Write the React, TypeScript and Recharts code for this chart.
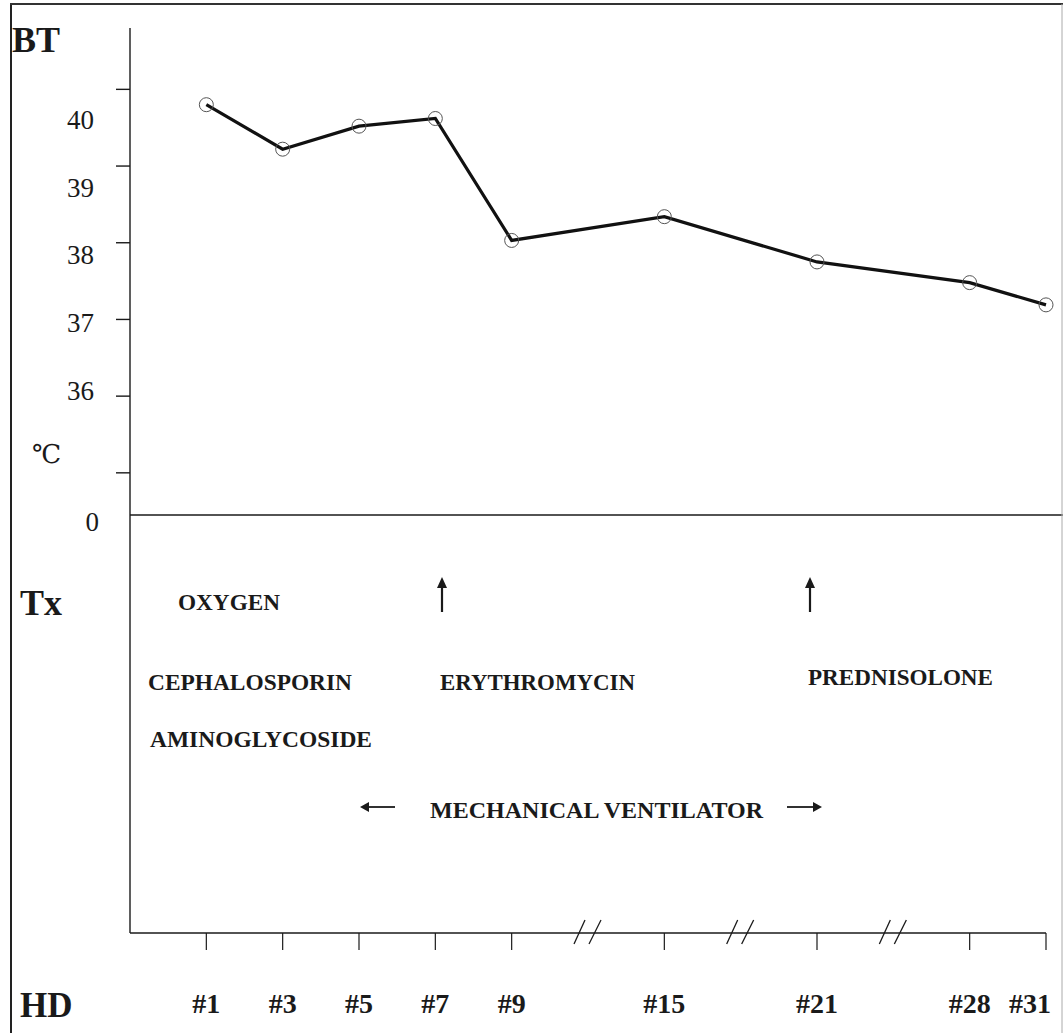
import { LineChart, Line, XAxis, YAxis, ReferenceLine, ReferenceDot } from "recharts";

// hospital days shown on the HD axis
const days = ["#1", "#3", "#5", "#7", "#9", "#15", "#21", "#28", "#31"];
// slot on the broken HD axis (breaks fall on 6, 8, 10)
const slots = [1, 2, 3, 4, 5, 7, 9, 11, 12];
const breakSlots = [6, 8, 10];
// body temperature, ℃
const bodyTemp = [39.8, 39.22, 39.52, 39.62, 38.03, 38.34, 37.75, 37.48, 37.19];
const tempTicks = [35, 36, 37, 38, 39, 40];
// where the "0" of the broken BT axis sits
const ZERO_AT = 34.45;

const treatments = ["OXYGEN", "CEPHALOSPORIN", "AMINOGLYCOSIDE", "ERYTHROMYCIN", "PREDNISOLONE"];
const ventLabel = "MECHANICAL  VENTILATOR";

const data = days.map((day, i) => ({ day, slot: slots[i], bt: bodyTemp[i] }));

const SERIF = "'Liberation Serif', 'Times New Roman', 'DejaVu Serif', serif";
const INK = "#1a1a1a";

function TempTick(props: any) {
  const { x, y, payload } = props;
  const v = payload.value;
  const axisX = x + 16; // tickSize 14 + tickMargin 2
  if (v === ZERO_AT) {
    return (
      <text x={axisX - 31} y={y + 16} textAnchor="end" fontSize={27} fill={INK} fontFamily={SERIF}>
        0
      </text>
    );
  }
  return (
    <g>
      <line x1={axisX - 14} x2={axisX} y1={y} y2={y} stroke={INK} strokeWidth={1.4} />
      {v !== 35 && (
        <text
          x={axisX - 36}
          y={y + 10 + (v - 36.7) * 9}
          textAnchor="end"
          fontSize={27}
          fill={INK}
          fontFamily={SERIF}
        >
          {v}
        </text>
      )}
    </g>
  );
}

function DayTick(props: any) {
  const { x, y, payload } = props;
  const i = slots.indexOf(payload.value);
  const last = i === slots.length - 1;
  return (
    <text
      x={last ? x + 5 : x}
      y={y + 63}
      textAnchor={last ? "end" : "middle"}
      fontSize={28}
      fontWeight="bold"
      fill={INK}
      fontFamily={SERIF}
    >
      {days[i]}
    </text>
  );
}

const BreakMark = (p: any) => (
  <g stroke={INK} strokeWidth={1.3}>
    <line x1={p.cx - 14} y1={p.cy + 11} x2={p.cx - 3} y2={p.cy - 13} />
    <line x1={p.cx + 1} y1={p.cy + 11} x2={p.cx + 13} y2={p.cy - 13} />
  </g>
);

function UpArrow({ x }: { x: number }) {
  return (
    <g>
      <line x1={x} y1={612} x2={x} y2={584} stroke={INK} strokeWidth={2.2} />
      <polygon points={`${x - 5},${588} ${x},${577} ${x + 5},${588}`} fill={INK} />
    </g>
  );
}

function SideArrow({ x1, x2, y }: { x1: number; x2: number; y: number }) {
  const dir = x2 > x1 ? 1 : -1;
  return (
    <g>
      <line x1={x1} y1={y} x2={x2 - dir * 6} y2={y} stroke={INK} strokeWidth={1.8} />
      <polygon points={`${x2 - dir * 9},${y - 5} ${x2},${y} ${x2 - dir * 9},${y + 5}`} fill={INK} />
    </g>
  );
}

export default function App() {
  const bold = { fontFamily: SERIF, fontWeight: "bold" as const, fill: INK };
  return (
    <div
      style={{
        position: "absolute",
        left: 0,
        top: 0,
        width: 1063,
        height: 1033,
        background: "#fff",
        fontFamily: SERIF,
      }}
    >
      <LineChart
        width={1063}
        height={1033}
        data={data}
        margin={{ top: 28, right: 17, left: 70, bottom: 40 }}
      >
        <XAxis
          dataKey="slot"
          type="number"
          domain={[0, 12]}
          ticks={slots}
          interval={0}
          height={60}
          tickSize={17}
          tickMargin={0}
          stroke={INK}
          axisLine={{ stroke: INK, strokeWidth: 1.4 }}
          tickLine={{ stroke: INK, strokeWidth: 1.2 }}
          tick={<DayTick />}
        />
        <YAxis
          type="number"
          domain={[29, 40.8]}
          ticks={[ZERO_AT, ...tempTicks]}
          interval={0}
          width={60}
          tickSize={14}
          tickMargin={2}
          tickLine={false}
          axisLine={{ stroke: INK, strokeWidth: 1.4 }}
          tick={<TempTick />}
        />
        <ReferenceLine
          segment={[
            { x: 0, y: ZERO_AT },
            { x: 12.22, y: ZERO_AT },
          ]}
          stroke={INK}
          strokeWidth={1.4}
          ifOverflow="visible"
        />
        {breakSlots.map((s) => (
          <ReferenceDot key={s} x={s} y={29} r={0} shape={BreakMark} ifOverflow="visible" />
        ))}
        <Line
          type="linear"
          dataKey="bt"
          stroke="#111"
          strokeWidth={3.2}
          dot={{ r: 7, stroke: "#555", strokeWidth: 1, fill: "none" }}
          activeDot={false}
          isAnimationActive={false}
        />
      </LineChart>

      <svg
        width={1063}
        height={1033}
        style={{ position: "absolute", left: 0, top: 0, pointerEvents: "none" }}
      >
        {/* frame */}
        <line x1={11} y1={3} x2={11} y2={1033} stroke="#222" strokeWidth={2} />
        <line x1={10} y1={4} x2={1063} y2={4} stroke="#333" strokeWidth={2} />
        <line x1={1062} y1={4} x2={1062} y2={1033} stroke="#aaa" strokeWidth={1} />

        <text x={12} y={52} fontSize={36} {...bold}>BT</text>
        <text x={32} y={463} fontSize={26} fill={INK} fontFamily={SERIF}>℃</text>
        <text x={20} y={615} fontSize={36} {...bold}>Tx</text>
        <text x={20} y={1017} fontSize={35} {...bold}>HD</text>

        <text x={178} y={610} fontSize={23} textLength={102} lengthAdjust="spacingAndGlyphs" {...bold}>
          {treatments[0]}
        </text>
        <text x={148} y={690} fontSize={23} textLength={204} lengthAdjust="spacingAndGlyphs" {...bold}>
          {treatments[1]}
        </text>
        <text x={150} y={747} fontSize={23} textLength={222} lengthAdjust="spacingAndGlyphs" {...bold}>
          {treatments[2]}
        </text>
        <text x={440} y={690} fontSize={23} textLength={195} lengthAdjust="spacingAndGlyphs" {...bold}>
          {treatments[3]}
        </text>
        <text x={808} y={685} fontSize={23} textLength={185} lengthAdjust="spacingAndGlyphs" {...bold}>
          {treatments[4]}
        </text>
        <text x={430} y={818} fontSize={23} textLength={333} lengthAdjust="spacingAndGlyphs" {...bold}>
          {ventLabel}
        </text>

        <UpArrow x={442} />
        <UpArrow x={810} />
        <SideArrow x1={395} x2={360} y={807} />
        <SideArrow x1={787} x2={822} y={807} />
      </svg>
    </div>
  );
}
